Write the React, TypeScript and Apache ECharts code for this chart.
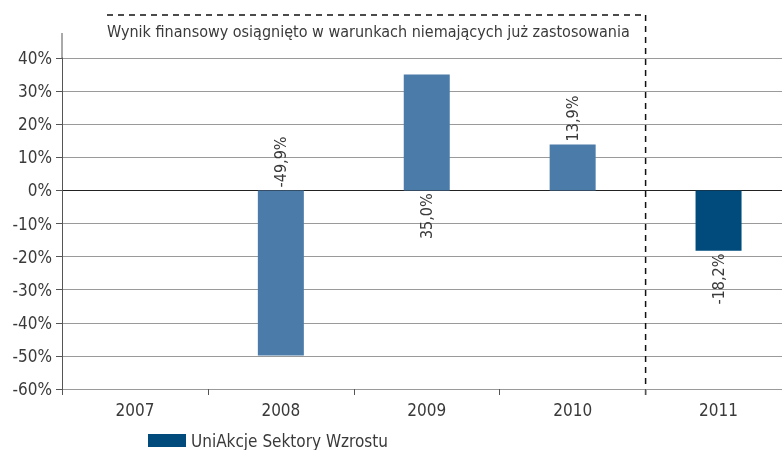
import React, { useEffect, useRef } from "react";
import * as echarts from "echarts";

const categories = ["2007", "2008", "2009", "2010", "2011"];
const fundValues: (number | null)[] = [null, -49.9, 35.0, 13.9, -18.2];
const labelSides = ["top", "top", "bottom", "top", "bottom"];
const yTicks = [-60, -50, -40, -30, -20, -10, 0, 10, 20, 30, 40];
const seriesName = "UniAkcje Sektory Wzrostu";
const noteText = "Wynik finansowy osiągnięto w warunkach niemających już zastosowania";
const historicalCount = 4;

const FONT = "'DejaVu Sans Condensed', 'DejaVu Sans', sans-serif";
const LIGHT = "#4b7ba8";
const DARK = "#004b7c";
const TEXT = "#3a3a3a";

export default function App() {
  const ref = useRef<HTMLDivElement>(null);
  useEffect(() => {
    if (!ref.current) return;
    const chart = echarts.init(ref.current, null, { renderer: "svg" });
    const fmt = (v: number) => v.toFixed(1).replace(".", ",") + "%";
    const data = fundValues.map((v, i) => {
      if (v === null) return null;
      const side = labelSides[i];
      return {
        value: v,
        itemStyle: { color: i < historicalCount ? LIGHT : DARK },
        label: {
          show: true,
          position: side,
          rotate: 90,
          align: side === "top" ? "left" : "right",
          verticalAlign: "middle",
          distance: 3,
          formatter: () => fmt(v),
          fontSize: 16,
          fontFamily: FONT,
          color: TEXT,
        },
      };
    });
    const zeroIdx = yTicks.indexOf(0);
    const splitColors = yTicks.map((_, i) => (i === zeroIdx ? "#222" : "#9a9a9a"));
    chart.setOption({
      animation: false,
      grid: {
        left: 62,
        width: 729.5,
        top: 58,
        height: 331,
        containLabel: false,
        outerBoundsMode: "none",
      },
      legend: {
        show: true,
        left: 148,
        top: 432,
        padding: 0,
        itemWidth: 38,
        itemHeight: 13,
        icon: "rect",
        textStyle: { fontSize: 17, fontFamily: FONT, color: TEXT },
        data: [{ name: seriesName, itemStyle: { color: DARK } }],
      },
      xAxis: {
        type: "category",
        data: categories,
        boundaryGap: true,
        axisLine: { onZero: false, lineStyle: { color: "#9a9a9a", width: 1 } },
        axisTick: { show: true, length: 6, lineStyle: { color: "#555" } },
        axisLabel: { fontSize: 17, fontFamily: FONT, color: TEXT, margin: 12 },
      },
      yAxis: {
        type: "value",
        min: -60,
        max: 40,
        interval: 10,
        axisLine: { show: true, lineStyle: { color: "#555", width: 1 } },
        axisTick: { show: true, length: 6, lineStyle: { color: "#555" } },
        axisLabel: {
          fontSize: 17,
          fontFamily: FONT,
          color: TEXT,
          margin: 10,
          formatter: (v: number) => `${v}%`,
        },
        splitLine: { show: true, lineStyle: { color: splitColors, width: 1 } },
      },
      series: [
        {
          name: seriesName,
          type: "bar",
          barWidth: 46,
          itemStyle: { color: DARK },
          data,
        },
      ],
    });
    const p3 = chart.convertToPixel({ xAxisIndex: 0 }, 3) as number;
    const p4 = chart.convertToPixel({ xAxisIndex: 0 }, 4) as number;
    const boundaryX = (p3 + p4) / 2;
    const yTop = chart.convertToPixel({ yAxisIndex: 0 }, 40) as number;
    const yBottom = chart.convertToPixel({ yAxisIndex: 0 }, -60) as number;
    const dash = { stroke: "#111", lineWidth: 1.5, lineDash: [6, 5] };
    chart.setOption({
      graphic: [
        {
          type: "line",
          shape: { x1: 62, y1: yTop - 25, x2: 62, y2: yTop },
          style: { stroke: "#555", lineWidth: 1 },
        },
        {
          type: "line",
          shape: { x1: 107, y1: 15, x2: boundaryX, y2: 15 },
          style: dash,
        },
        {
          type: "line",
          shape: { x1: boundaryX, y1: 15, x2: boundaryX, y2: yBottom + 6 },
          style: dash,
        },
        {
          type: "text",
          x: 107,
          y: 31,
          style: {
            text: noteText,
            fontSize: 16,
            fontFamily: FONT,
            fill: TEXT,
            verticalAlign: "middle",
          },
        },
      ],
    });
    return () => chart.dispose();
  }, []);
  return (
    <div
      ref={ref}
      style={{ position: "fixed", left: 0, top: 0, width: 782, height: 450, overflow: "hidden" }}
    />
  );
}
